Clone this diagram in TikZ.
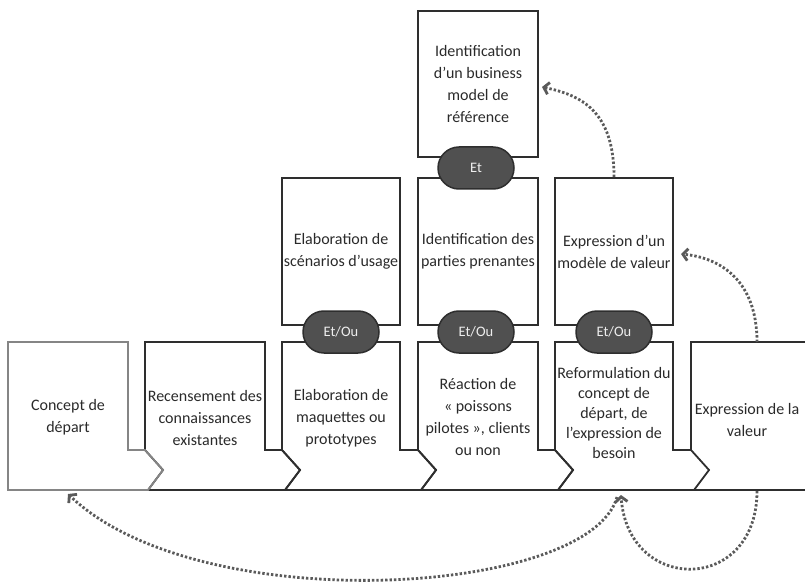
\documentclass[tikz,border=0pt]{standalone}
\usepackage{fontspec}
\setmainfont{Carlito}
\usetikzlibrary{arrows.meta}
\definecolor{boxc}{HTML}{2E2E2E}
\definecolor{boxl}{HTML}{858585}
\definecolor{txtc}{HTML}{2A2A2A}
\definecolor{pillf}{HTML}{505050}
\definecolor{pilld}{HTML}{2E2E2E}
\definecolor{pillt}{HTML}{EEEEEE}
\definecolor{arrc}{HTML}{5A5A5A}
\begin{document}
\begin{tikzpicture}[x=1pt,y=-1pt,
  lbl/.style={align=center, text=txtc, font=\fontsize{16}{22}\selectfont, inner sep=0pt},
  box/.style={lbl, draw=boxc, line width=1.8pt, minimum height=147pt},
  pill/.style={draw=pilld, fill=pillf, line width=1.5pt, rounded corners=21pt, minimum width=76pt, minimum height=42pt, text=pillt, font=\fontsize{14.5}{16}\selectfont, inner sep=0pt},
  outl/.style={draw=boxc, line width=1.8pt, line join=miter},
  outlg/.style={draw=boxl, line width=1.8pt, line join=miter},
  flow/.style={draw=arrc, line width=2.8pt, dash pattern=on 2.4pt off 2pt, -{Straight Barb[length=5pt, width=12pt]}}
]
\useasboundingbox (0,0) rectangle (805,585);

% top and middle rows
\node[box, minimum width=120pt, minimum height=146pt] (t1) at (478,84) {Identification\\d’un business\\model de\\référence};
\node[box, minimum width=118pt] (m1) at (341,251.5) {Elaboration de\\scénarios d'usage};
\node[box, minimum width=120pt] (m2) at (478,251.5) {Identification des\\parties prenantes};
\node[box, minimum width=118pt] (m3) at (614,251.5) {Expression d’un\\modèle de valeur};

% bottom row outlines (right to left)
\draw[outl] (805,342) -- (691,342) -- (691,450);
\draw[outl] (694,490) -- (805,490);
\draw[outl] (555,342) -- (673,342) -- (673,450) -- (691,450) -- (709,470) -- (694,490) -- (558,490) -- (573,470) -- (555,450) -- cycle;
\draw[outl] (418,342) -- (538,342) -- (538,450) -- (555,450) -- (573,470) -- (558,490) -- (421,490) -- (436,470) -- (418,450) -- cycle;
\draw[outl] (282,342) -- (400,342) -- (400,450) -- (418,450) -- (436,470) -- (421,490) -- (285,490) -- (300,470) -- (282,450) -- cycle;
\draw[outl] (145,342) -- (265,342) -- (265,450) -- (282,450) -- (300,470) -- (285,490) -- (148,490) -- (163,470) -- (145,450) -- cycle;
\draw[outlg] (8,342) -- (128,342) -- (128,450) -- (145,450) -- (163,470) -- (148,490) -- (8,490) -- cycle;

% bottom row labels
\node[lbl] (b1) at (68,417) {Concept de\\départ};
\node[lbl] (b2) at (205,418) {Recensement des\\connaissances\\existantes};
\node[lbl] (b3) at (341,418) {Elaboration de\\maquettes ou\\prototypes};
\node[lbl] (b4) at (478,417) {Réaction de\\«~poissons\\pilotes~», clients\\ou non};
\node[lbl, font=\fontsize{16}{20}\selectfont] (b5) at (614,413) {Reformulation du\\concept de\\départ, de\\l’expression de\\besoin};
\node[lbl] (b6) at (747,420) {Expression de la\\valeur};

% connectors (pills)
\node[pill] (p0) at (476,168) {Et};
\node[pill] (p1) at (341,332) {Et/Ou};
\node[pill] (p2) at (476,332) {Et/Ou};
\node[pill] (p3) at (614,332) {Et/Ou};

% dotted feedback arrows
\coordinate (a1e) at (542,87);
\coordinate (a2s) at (757,342);
\coordinate (a2e) at (681,254);
\coordinate (a3s) at (757,491);
\coordinate (a3e) at (621,495);
\coordinate (a4s) at (617,497);
\coordinate (a4e) at (68,494);
\draw[flow] (m3.north) .. controls (614,110) and (580,95) .. (a1e);
\draw[flow] (a2s) .. controls (757,282) and (722,258) .. (a2e);
\draw[flow] (a3s) .. controls (757,594) and (628,594) .. (a3e);
\draw[flow] (a4s) .. controls (590,596) and (200,620) .. (a4e);
\end{tikzpicture}
\end{document}
